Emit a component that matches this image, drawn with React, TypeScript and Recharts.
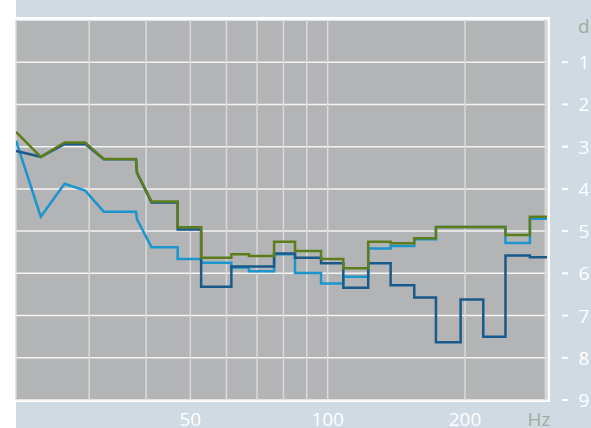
import { LineChart, Line, XAxis, YAxis, CartesianGrid, Label } from "recharts";

// ─── Data (Hz, dB below reference) ──────────────────────────────────────────

const xGridTicks = [30, 40, 50, 60, 70, 80, 90, 100, 200, 300];
const xLabels = [50, 100, 200];
const yTicks = [1, 2, 3, 4, 5, 6, 7, 8, 9];

const greenPts: [number, number][] = [
  [20.74, 2.65], [23.5, 3.24], [26.5, 2.9], [29.4, 2.9], [32.3, 3.29], [38.0, 3.29],
  [38.2, 3.62], [41.1, 4.3], [46.9, 4.3], [46.9, 4.91], [52.8, 4.91], [52.8, 5.63],
  [61.5, 5.63], [61.5, 5.55], [67.2, 5.55], [67.2, 5.59], [76.3, 5.59], [76.3, 5.25],
  [84.8, 5.25], [84.8, 5.47], [96.7, 5.47], [96.7, 5.66], [108.2, 5.66], [108.2, 5.88],
  [122.7, 5.88], [122.7, 5.25], [137.4, 5.25], [137.4, 5.29], [154.8, 5.29], [154.8, 5.17],
  [172.7, 5.17], [172.7, 4.9], [245.3, 4.9], [245.3, 5.09], [277.5, 5.09], [277.5, 4.66],
  [302.5, 4.66],
];

const darkBluePts: [number, number][] = [
  [20.74, 3.1], [23.5, 3.24], [26.5, 2.94], [29.4, 2.94], [32.3, 3.3], [38.0, 3.3],
  [38.2, 3.62], [41.1, 4.32], [46.9, 4.32], [46.9, 4.96], [52.8, 4.96], [52.8, 6.32],
  [61.5, 6.32], [61.5, 5.84], [76.3, 5.84], [76.3, 5.53], [84.8, 5.53], [84.8, 5.63],
  [96.7, 5.63], [96.7, 5.76], [108.2, 5.76], [108.2, 6.34], [122.7, 6.34], [122.7, 5.76],
  [137.4, 5.76], [137.4, 6.28], [154.8, 6.28], [154.8, 6.57], [172.7, 6.57], [172.7, 7.63],
  [195.6, 7.63], [195.6, 6.62], [219.3, 6.62], [219.3, 7.5], [245.3, 7.5], [245.3, 5.58],
  [277.5, 5.58], [277.5, 5.62], [302.5, 5.62],
];

const lightBluePts: [number, number][] = [
  [20.74, 2.86], [23.5, 4.66], [26.5, 3.88], [29.4, 4.04], [32.3, 4.54], [38.0, 4.54],
  [38.2, 4.72], [41.1, 5.38], [46.9, 5.38], [46.9, 5.66], [52.8, 5.66], [52.8, 5.75],
  [61.5, 5.75], [61.5, 5.86], [67.2, 5.86], [67.2, 5.95], [76.3, 5.95], [76.3, 5.55],
  [84.8, 5.55], [84.8, 5.99], [96.7, 5.99], [96.7, 6.24], [108.2, 6.24], [108.2, 6.08],
  [122.7, 6.08], [122.7, 5.41], [137.4, 5.41], [137.4, 5.35], [154.8, 5.35], [154.8, 5.19],
  [172.7, 5.19], [172.7, 4.9], [245.3, 4.9], [245.3, 5.28], [277.5, 5.28], [277.5, 4.71],
  [302.5, 4.71],
];

const toRows = (pts: [number, number][]) => pts.map(([f, v]) => ({ f, v }));

// ─── Styling ────────────────────────────────────────────────────────────────

const FONT = "'Open Sans', 'Noto Sans', sans-serif";
const PANEL_BG = "#cfdae3";
const PLOT_BG = "#b3b4b6";
const UNIT_COLOR = "#a2aa9e";

function XTick(props: any) {
  const { x, y, payload } = props;
  if (!xLabels.includes(payload.value)) return null;
  return (
    <text x={x} y={y + 26} textAnchor="middle" fill="#ffffff" fontSize={19} fontFamily={FONT}>
      {payload.value}
    </text>
  );
}

function YTick(props: any) {
  const { x, y, payload } = props;
  return (
    <g>
      <line x1={x + 15} x2={x + 21} y1={y} y2={y} stroke="#ffffff" strokeWidth={2} />
      <text x={x + 37} y={y + 7} textAnchor="middle" fill="#ffffff" fontSize={19} fontFamily={FONT}>
        {payload.value}
      </text>
    </g>
  );
}

function HzLabel(props: any) {
  const vb = props.viewBox;
  return (
    <text x={vb.x + vb.width - 8} y={vb.y + 26} textAnchor="middle" fill={UNIT_COLOR} fontSize={19} fontFamily={FONT}>
      Hz
    </text>
  );
}

function DbLabel(props: any) {
  const vb = props.viewBox;
  return (
    <text x={vb.x + 31} y={vb.y + 13} textAnchor="start" fill={UNIT_COLOR} fontSize={19} fontFamily={FONT}>
      dB
    </text>
  );
}

export default function App() {
  return (
    <div style={{ position: "absolute", left: 0, top: 0, width: 591, height: 428, background: "#ffffff", overflow: "hidden" }}>
      <div style={{ position: "absolute", left: 16, top: 0, width: 575, height: 428, background: PANEL_BG }} />
      <div style={{ position: "absolute", left: 13, top: 17, width: 537, height: 385, background: "#ffffff" }} />
      <div style={{ position: "absolute", left: 0, top: 0 }}>
        <LineChart width={591} height={428} margin={{ top: 20, right: 0, bottom: 0, left: 16 }}>
          <CartesianGrid
            fill={PLOT_BG}
            fillOpacity={1}
            vertical={false}
            stroke="#f4f4f4"
            strokeWidth={1.5}
          />
          <CartesianGrid horizontal={false} stroke="#dadada" strokeWidth={1.5} />
          <XAxis
            type="number"
            dataKey="f"
            scale="log"
            domain={[20.74, 302.5]}
            allowDataOverflow
            ticks={xGridTicks}
            tick={<XTick />}
            tickLine={false}
            axisLine={false}
            tickSize={0}
            tickMargin={0}
            height={28}
            interval={0}
          >
            <Label content={<HzLabel />} />
          </XAxis>
          <YAxis
            orientation="right"
            type="number"
            domain={[0, 9]}
            reversed
            allowDataOverflow
            ticks={yTicks}
            tick={<YTick />}
            tickLine={false}
            axisLine={false}
            tickSize={0}
            tickMargin={0}
            width={44}
            interval={0}
          >
            <Label content={<DbLabel />} />
          </YAxis>
          <Line data={toRows(lightBluePts)} dataKey="v" type="linear" stroke="#1a95cd" strokeWidth={2.5} dot={false} isAnimationActive={false} />
          <Line data={toRows(darkBluePts)} dataKey="v" type="linear" stroke="#195a8b" strokeWidth={2.5} dot={false} isAnimationActive={false} />
          <Line data={toRows(greenPts)} dataKey="v" type="linear" stroke="#5d7d1c" strokeWidth={2.5} dot={false} isAnimationActive={false} />
        </LineChart>
      </div>
    </div>
  );
}
